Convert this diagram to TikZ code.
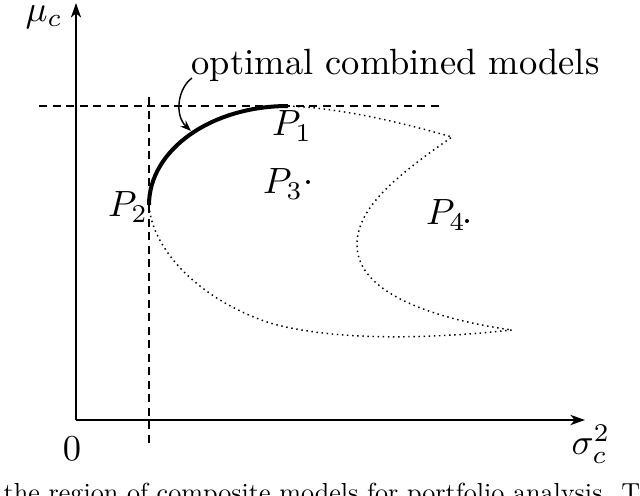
\documentclass[tikz,border=0pt]{standalone}
\usetikzlibrary{arrows.meta}
\begin{document}
\begin{tikzpicture}[x=0.274pt,y=-0.274pt,
  axisline/.style={line width=0.55pt,-{Stealth[length=4pt,width=2.8pt,inset=1.2pt]}},
  guide/.style={line width=0.4pt,dash pattern=on 2.2pt off 1.5pt},
  frontier/.style={line width=1.1pt},
  region/.style={line width=0.4pt,densely dotted},
  pointer/.style={line width=0.4pt,-{Stealth[length=3pt,width=2.2pt]}},
  lbl/.style={inner sep=0pt},
  pdot/.style={circle,fill=black,inner sep=0pt,minimum size=1.1pt}]
\useasboundingbox (0,0) rectangle (640,496);
% axes
\coordinate (O) at (76,420);
\coordinate (Xend) at (585,420);
\coordinate (Yend) at (76,3);
\draw[axisline] (O) -- (Xend);
\draw[axisline] (O) -- (Yend);
\node[lbl] (zero) at (72,449) {$0$};
\node[lbl] (xl) at (591,444) {$\sigma_c^2$};
\node[lbl] (yl) at (44,17) {$\mu_c$};
% guides
\coordinate (H1) at (39,106);
\coordinate (H2) at (443,106);
\coordinate (V1) at (149,97);
\coordinate (V2) at (149,445);
\draw[guide] (H1) -- (H2);
\draw[guide] (V1) -- (V2);
% key points
\coordinate (P1) at (288,106);
\coordinate (P2) at (149,205);
\coordinate (R1) at (452,137);
\coordinate (L1) at (357,245);
\coordinate (R2) at (512,330);
\coordinate (B1) at (270,323);
% region boundary
\draw[region] (P1) .. controls (340,108) and (400,122) .. (R1)
  .. controls (390,180) and (357,210) .. (L1)
  .. controls (357,295) and (440,320) .. (R2)
  .. controls (420,340) and (330,340) .. (B1)
  .. controls (200,300) and (152,250) .. (P2);
% efficient frontier
\draw[frontier] (P2) .. controls (149,150) and (211,106) .. (P1);
% labels
\node[lbl] (p1) at (292,126) {$P_1$};
\node[lbl] (p2) at (128,207) {$P_2$};
\node[lbl] (p3) at (283,184) {$P_3$};
\node[pdot] (d3) at (308,182) {};
\node[lbl] (p4) at (446,215) {$P_4$};
\node[pdot] (d4) at (467,221) {};
% annotation
\node[lbl,anchor=base west] (opt) at (191,74) {optimal combined models};
\coordinate (aS) at (192,78);
\coordinate (aE) at (191,131);
\draw[pointer] (aS) .. controls (178,88) and (174,115) .. (aE);
% cut caption
\begin{scope}
\clip (0,0) rectangle (640,496);
\node[lbl,anchor=base west] (cap) at (3,501) {\scalebox{0.715}{the region of composite models for portfolio analysis. T}};
\end{scope}
\end{tikzpicture}
\end{document}
